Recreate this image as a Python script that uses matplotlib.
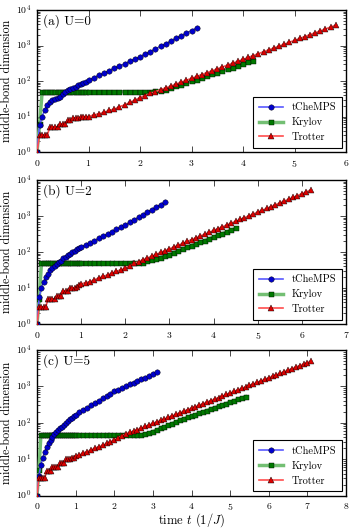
import numpy as np
import matplotlib
matplotlib.use("Agg")
import matplotlib.pyplot as plt

plt.style.use("classic")
plt.rcParams.update({
    "font.family": "serif",
    "font.serif": ["cmr10", "DejaVu Serif"],
    "mathtext.fontset": "cm",
    "axes.formatter.use_mathtext": True,
    "figure.facecolor": "white",
    "savefig.facecolor": "white",
    "axes.unicode_minus": False,
})

# ---------------- data ----------------
panel_labels = ["(a) U=0", "(b) U=2", "(c) U=5"]
xmax = [6, 7, 8]
series_names = ["tCheMPS", "Krylov", "Trotter"]

# early times (step 0.05), later times step 0.1 from 1.0 up to each series' end time
t_early = [0.0, 0.05, 0.1, 0.15, 0.2, 0.25, 0.3, 0.35, 0.4, 0.45,
           0.5, 0.55, 0.6, 0.65, 0.7, 0.75, 0.8, 0.85, 0.9, 0.95]

# ---- (a) U=0 ----
tchemps_a_end = 3.1
tchemps_a = [1, 5.6, 10, 15, 21, 26, 29, 31, 33, 36, 43, 49, 55, 59, 63, 69, 76, 83, 89, 95,
             105, 123, 145, 166, 195, 229, 263, 302, 355, 407, 479,
             568, 673, 795, 946, 1120, 1330, 1580, 1860, 2220, 2630, 3120]
krylov_a_end = 4.2
krylov_a = [1, 6, 50, 50, 50, 50, 50, 50, 50, 50, 50, 50, 50, 50, 50, 50, 50, 50, 50, 50,
            50, 50, 50, 50, 50, 50, 50, 50, 50, 50, 50, 50, 50, 51, 53, 57, 63,
            70, 79, 88, 99, 110, 123, 138, 154, 172, 192, 214, 240, 269, 300, 336, 372]
trotter_a_end = 5.8
trotter_a = [1, 3, 3, 3, 3, 5, 5, 5, 5, 6, 6, 6, 8, 8, 9, 9, 9, 10, 10, 10,
             10, 11, 12, 13, 15, 16, 19, 21, 25, 29, 34, 39, 45, 50,
             57, 64, 72, 82, 93, 105, 119, 134, 152, 172, 194, 220, 248, 281, 318, 359,
             406, 460, 520, 589, 666, 753, 851, 963, 1090, 1230, 1390, 1580, 1780, 2020,
             2280, 2580, 2920, 3300, 3730]

# ---- (b) U=2 ----
tchemps_b_end = 2.9
tchemps_b = [1, 5.7, 10, 15, 20, 25, 31, 36, 41, 47, 52, 58, 66, 74, 82, 90, 98, 108, 118, 128,
             138, 156, 180, 207, 239, 275, 318, 366, 423, 488, 562,
             662, 780, 918, 1080, 1270, 1500, 1770, 2080, 2450]
krylov_b_end = 4.5
krylov_b = [1, 5, 48, 48, 48, 48, 48, 48, 48, 48, 48, 48, 48, 48, 48, 48, 48, 48, 48, 48,
            48, 48, 48, 48, 48, 48, 48, 48, 48, 48, 48, 48, 48, 49, 51, 55, 60, 65, 70, 77,
            85, 95, 107, 120, 134, 149, 167, 186, 208, 232, 259, 290, 324, 361, 404, 451]
trotter_b_end = 6.2
trotter_b = [1, 3, 3, 3, 3, 5, 5, 5, 5, 6, 6, 6, 8, 8, 8, 10, 10, 10, 11, 12,
             13, 14, 15, 17, 19, 21, 23, 26, 29, 32, 36, 41, 48,
             54, 61, 68, 77, 86, 97, 109, 122, 138, 155, 174, 196, 220, 248, 279, 313, 352,
             396, 446, 501, 564, 634, 713, 802, 902, 1010, 1140, 1280, 1440, 1620, 1820,
             2050, 2310, 2590, 2920, 3280, 3690, 4150, 4670, 5250]

# ---- (c) U=5 ----
tchemps_c_end = 3.1
tchemps_c = [1, 3.5, 7, 11, 16, 22, 28, 34, 41, 48, 55, 63, 70, 78, 88, 100, 112, 124, 137, 150,
             166, 192, 223, 258, 299, 347, 402, 466, 540, 625, 724,
             809, 904, 1010, 1130, 1260, 1410, 1570, 1750, 1960, 2190, 2440]
krylov_c_end = 5.4
krylov_c = [1, 5, 45, 45, 45, 45, 45, 45, 45, 45, 45, 45, 45, 45, 45, 45, 45, 45, 45, 45,
            45, 45, 45, 45, 45, 45, 45, 45, 45, 45, 45, 45, 45, 45, 45, 45, 46, 47, 49, 52,
            57, 63, 70, 77, 85, 95, 106, 117, 128, 140, 153, 167, 182, 199, 217, 237, 258,
            282, 308, 336, 366, 400, 437, 476, 520]
trotter_c_end = 7.1
trotter_c = [1, 3, 3, 3, 3, 4.6, 4.6, 4.6, 6, 6, 6, 6, 8, 8, 8, 10, 10, 10, 11, 11,
             12, 13, 15, 16, 18, 20, 22, 24, 27, 30, 34, 38, 44, 49,
             54, 59, 65, 72, 79, 87, 96, 106, 116, 128, 141, 156, 171, 189, 208, 229,
             252, 277, 305, 336, 370, 407, 449, 494, 544, 599, 659, 726, 799, 880, 969,
             1070, 1170, 1290, 1420, 1570, 1730, 1900, 2090, 2300, 2540, 2790, 3080, 3390,
             3720, 4100, 4520, 4980]

panels = [
    [(tchemps_a_end, tchemps_a), (krylov_a_end, krylov_a), (trotter_a_end, trotter_a)],
    [(tchemps_b_end, tchemps_b), (krylov_b_end, krylov_b), (trotter_b_end, trotter_b)],
    [(tchemps_c_end, tchemps_c), (krylov_c_end, krylov_c), (trotter_c_end, trotter_c)],
]


def make_time(t_end, n):
    late = np.round(np.arange(1.0, t_end + 0.05, 0.1), 2)
    t = np.concatenate([np.array(t_early), late])
    return t[:n]


# ---------------- plotting ----------------
fig = plt.figure(figsize=(3.53, 5.32), dpi=100)
L, R = 37 / 353, 346 / 353
boxes = [(10, 152), (180, 324), (350, 495.5)]

styles = [
    dict(marker="o", color=(0.35, 0.35, 1.0), lw=1.2, mfc="#0000cc", ms=3.9, zorder=4),
    dict(marker="s", color=(0.45, 0.75, 0.45), lw=2.5, mfc="#007a00", ms=3.6, zorder=3),
    dict(marker="^", color=(1.0, 0.3, 0.3), lw=1.2, mfc="#dd0000", ms=4.0, zorder=5),
]

for i in range(3):
    top, bot = boxes[i]
    ax = fig.add_axes([L, 1 - bot / 532, R - L, (bot - top) / 532])
    handles = []
    for (t_end, vals), name, st in zip(panels[i], series_names, styles):
        t = make_time(t_end, len(vals))
        h, = ax.plot(t, vals, linestyle="-", marker=st["marker"], color=st["color"],
                     lw=st["lw"], mfc=st["mfc"], mec="k", mew=0.3, ms=st["ms"],
                     label=name, zorder=st["zorder"])
        handles.append(h)
    ax.set_yscale("log")
    ax.set_ylim(1, 1e4)
    ax.set_xlim(0, xmax[i])
    ax.set_xticks(range(0, xmax[i] + 1))
    ax.tick_params(labelsize=7, pad=4)
    ax.set_ylabel("middle-bond dimension", fontsize=8.7, labelpad=2)
    ax.text(0.02, 0.97, panel_labels[i], transform=ax.transAxes, fontsize=9.5,
            va="top", ha="left")
    leg = ax.legend(handles=handles, loc="lower right", fontsize=7.5, numpoints=1,
                    frameon=True, fancybox=False, borderaxespad=0.4,
                    handlelength=2.3, labelspacing=0.5, borderpad=0.55)
    leg.get_frame().set_edgecolor("k")
    leg.get_frame().set_linewidth(0.8)

fig.text((L + R) / 2, 1 - 520 / 532, "time $t$ $(1/J)$", fontsize=9,
         ha="center", va="center")

fig.savefig("out.png", dpi=100)
